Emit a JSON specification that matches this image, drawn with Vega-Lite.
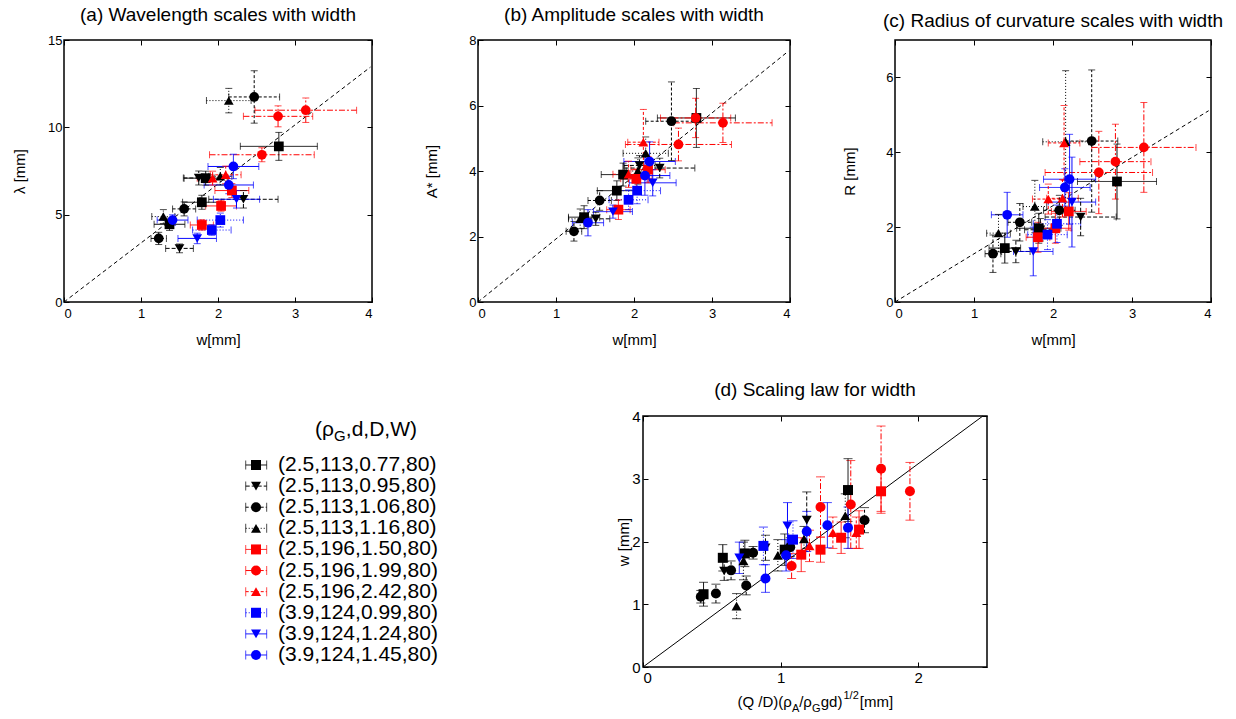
{
"$schema": "https://vega.github.io/schema/vega-lite/v6.json",
"background": "white",
"padding": {"left": 11, "top": 5, "right": 5, "bottom": 5},
"config": {
  "font": "Liberation Sans",
  "view": {"stroke": "black", "strokeWidth": 1.5},
  "axis": {"grid": false, "domain": false, "tickSize": -5, "tickColor": "black", "tickWidth": 1, "labelFontSize": 13, "labelColor": "black", "titleFontSize": 15, "titleFontWeight": "normal", "titleColor": "black", "labelFont": "Liberation Sans", "titleFont": "Liberation Sans"},
  "axisX": {"labelPadding": 10, "titlePadding": 12},
  "axisY": {"labelPadding": 7},
  "title": {"fontSize": 19, "fontWeight": "normal", "color": "black", "offset": 9, "anchor": "middle", "font": "Liberation Sans"}
},
"datasets": {
  "a": [
    {"s":"k1","w":2.79,"we":0.5,"v":8.91,"ve":0.8},{"s":"k1","w":1.84,"we":0.28,"v":7.09,"ve":0.4},{"s":"k1","w":1.79,"we":0.25,"v":5.71,"ve":0.4},{"s":"k1","w":1.37,"we":0.2,"v":4.45,"ve":0.35},
    {"s":"k2","w":2.33,"we":0.45,"v":5.88,"ve":0.5},{"s":"k2","w":1.75,"we":0.2,"v":7.1,"ve":0.4},{"s":"k2","w":1.5,"we":0.18,"v":3.07,"ve":0.25},
    {"s":"k3","w":2.47,"we":0.33,"v":11.74,"ve":1.5},{"s":"k3","w":1.56,"we":0.15,"v":5.33,"ve":0.4},{"s":"k3","w":1.23,"we":0.1,"v":3.64,"ve":0.35},
    {"s":"k4","w":2.14,"we":0.29,"v":11.53,"ve":0.7},{"s":"k4","w":2.03,"we":0.15,"v":7.2,"ve":0.5},{"s":"k4","w":1.29,"we":0.15,"v":4.89,"ve":0.4},
    {"s":"k5","w":2.18,"we":0.22,"v":6.38,"ve":0.4},{"s":"k5","w":2.04,"we":0.2,"v":5.5,"ve":0.3},{"s":"k5","w":1.79,"we":0.15,"v":4.41,"ve":0.3},
    {"s":"k6","w":2.78,"we":0.45,"v":10.63,"ve":0.6},{"s":"k6","w":3.14,"we":0.66,"v":10.98,"ve":0.7},{"s":"k6","w":2.57,"we":0.68,"v":8.43,"ve":0.4},
    {"s":"k7","w":1.93,"we":0.2,"v":7.09,"ve":0.4},{"s":"k7","w":2.1,"we":0.2,"v":7.28,"ve":0.5},
    {"s":"k8","w":2.03,"we":0.3,"v":4.69,"ve":0.4},{"s":"k8","w":1.92,"we":0.25,"v":4.12,"ve":0.3},
    {"s":"k9","w":2.24,"we":0.3,"v":5.88,"ve":0.5},{"s":"k9","w":1.73,"we":0.25,"v":3.64,"ve":0.3},
    {"s":"k10","w":2.2,"we":0.33,"v":7.76,"ve":0.7},{"s":"k10","w":2.14,"we":0.32,"v":6.7,"ve":0.5},{"s":"k10","w":1.41,"we":0.2,"v":4.69,"ve":0.3}
  ],
  "b": [
    {"s":"k1","w":2.8,"we":0.5,"v":5.62,"ve":0.9},{"s":"k1","w":1.86,"we":0.28,"v":3.89,"ve":0.35},{"s":"k1","w":1.78,"we":0.25,"v":3.4,"ve":0.3},{"s":"k1","w":1.36,"we":0.2,"v":2.59,"ve":0.35},
    {"s":"k2","w":2.33,"we":0.45,"v":4.09,"ve":0.3},{"s":"k2","w":2.07,"we":0.2,"v":4.17,"ve":0.3},{"s":"k2","w":1.51,"we":0.18,"v":2.54,"ve":0.2},
    {"s":"k3","w":2.48,"we":0.33,"v":5.52,"ve":1.2},{"s":"k3","w":1.56,"we":0.15,"v":3.1,"ve":0.3},{"s":"k3","w":1.23,"we":0.1,"v":2.16,"ve":0.3},
    {"s":"k4","w":2.15,"we":0.29,"v":4.54,"ve":0.5},{"s":"k4","w":2.05,"we":0.15,"v":4.0,"ve":0.4},{"s":"k4","w":1.31,"we":0.15,"v":2.54,"ve":0.3},
    {"s":"k5","w":2.18,"we":0.22,"v":4.04,"ve":0.4},{"s":"k5","w":2.03,"we":0.2,"v":3.76,"ve":0.3},{"s":"k5","w":1.8,"we":0.15,"v":2.82,"ve":0.3},
    {"s":"k6","w":2.79,"we":0.45,"v":5.62,"ve":0.6},{"s":"k6","w":3.14,"we":0.63,"v":5.47,"ve":0.6},{"s":"k6","w":2.57,"we":0.68,"v":4.81,"ve":0.5},
    {"s":"k7","w":2.12,"we":0.2,"v":4.88,"ve":1.0},{"s":"k7","w":1.93,"we":0.2,"v":3.9,"ve":0.4},
    {"s":"k8","w":2.04,"we":0.3,"v":3.4,"ve":0.4},{"s":"k8","w":1.93,"we":0.25,"v":3.12,"ve":0.3},
    {"s":"k9","w":2.24,"we":0.3,"v":3.64,"ve":0.4},{"s":"k9","w":1.73,"we":0.25,"v":2.76,"ve":0.2},
    {"s":"k10","w":2.2,"we":0.33,"v":4.29,"ve":0.6},{"s":"k10","w":2.14,"we":0.32,"v":3.86,"ve":0.6},{"s":"k10","w":1.41,"we":0.2,"v":2.42,"ve":0.4}
  ],
  "c": [
    {"s":"k1","w":2.81,"we":0.5,"v":3.22,"ve":1.0},{"s":"k1","w":1.82,"we":0.28,"v":1.97,"ve":0.4},{"s":"k1","w":1.39,"we":0.2,"v":1.44,"ve":0.4},
    {"s":"k2","w":2.35,"we":0.45,"v":2.27,"ve":0.5},{"s":"k2","w":1.84,"we":0.2,"v":1.93,"ve":0.3},{"s":"k2","w":1.53,"we":0.18,"v":1.35,"ve":0.3},
    {"s":"k3","w":2.49,"we":0.33,"v":4.3,"ve":1.9},{"s":"k3","w":2.08,"we":0.2,"v":2.45,"ve":0.4},{"s":"k3","w":1.58,"we":0.15,"v":2.13,"ve":0.5},{"s":"k3","w":1.24,"we":0.1,"v":1.29,"ve":0.5},
    {"s":"k4","w":2.16,"we":0.29,"v":4.28,"ve":1.9},{"s":"k4","w":1.77,"we":0.15,"v":2.55,"ve":0.7},{"s":"k4","w":1.31,"we":0.15,"v":1.84,"ve":0.5},
    {"s":"k5","w":2.2,"we":0.22,"v":2.42,"ve":0.5},{"s":"k5","w":2.03,"we":0.2,"v":1.97,"ve":0.4},{"s":"k5","w":1.81,"we":0.15,"v":1.73,"ve":0.4},
    {"s":"k6","w":3.15,"we":0.66,"v":4.13,"ve":1.2},{"s":"k6","w":2.79,"we":0.45,"v":3.75,"ve":1.0},{"s":"k6","w":2.58,"we":0.68,"v":3.46,"ve":1.1},
    {"s":"k7","w":2.14,"we":0.2,"v":4.25,"ve":1.0},{"s":"k7","w":1.94,"we":0.2,"v":2.75,"ve":0.4},{"s":"k7","w":2.12,"we":0.2,"v":2.77,"ve":0.5},
    {"s":"k8","w":2.05,"we":0.3,"v":2.09,"ve":0.5},{"s":"k8","w":1.93,"we":0.25,"v":1.8,"ve":0.4},
    {"s":"k9","w":2.24,"we":0.3,"v":2.67,"ve":1.2},{"s":"k9","w":1.75,"we":0.25,"v":1.35,"ve":0.65},
    {"s":"k10","w":2.21,"we":0.33,"v":3.28,"ve":1.2},{"s":"k10","w":2.15,"we":0.32,"v":3.06,"ve":0.5},{"s":"k10","w":1.42,"we":0.2,"v":2.33,"ve":0.6}
  ],
  "d": [
    {"s":"k1","x":0.44,"y":1.16,"ye":0.19},{"s":"k1","x":0.58,"y":1.74,"ye":0.21},{"s":"k1","x":0.74,"y":1.81,"ye":0.21},{"s":"k1","x":1.03,"y":1.87,"ye":0.25},{"s":"k1","x":1.49,"y":2.82,"ye":0.5},
    {"s":"k2","x":0.59,"y":1.53,"ye":0.15},{"s":"k2","x":0.89,"y":1.9,"ye":0.2},{"s":"k2","x":1.19,"y":2.34,"ye":0.45},
    {"s":"k3","x":0.42,"y":1.12,"ye":0.1},{"s":"k3","x":0.53,"y":1.17,"ye":0.15},{"s":"k3","x":0.64,"y":1.54,"ye":0.15},{"s":"k3","x":0.75,"y":1.3,"ye":0.15},{"s":"k3","x":0.8,"y":1.82,"ye":0.1},{"s":"k3","x":1.07,"y":1.91,"ye":0.15},{"s":"k3","x":1.61,"y":2.34,"ye":0.2},
    {"s":"k4","x":0.68,"y":0.97,"ye":0.2},{"s":"k4","x":0.73,"y":1.69,"ye":0.3},{"s":"k4","x":0.98,"y":1.78,"ye":0.25},{"s":"k4","x":1.17,"y":2.04,"ye":0.2},{"s":"k4","x":1.47,"y":2.41,"ye":0.35},
    {"s":"k5","x":1.15,"y":1.79,"ye":0.27},{"s":"k5","x":1.29,"y":1.87,"ye":0.2},{"s":"k5","x":1.44,"y":2.06,"ye":0.25},{"s":"k5","x":1.57,"y":2.19,"ye":0.3},{"s":"k5","x":1.73,"y":2.8,"ye":0.35},
    {"s":"k6","x":1.08,"y":1.61,"ye":0.2},{"s":"k6","x":1.29,"y":2.55,"ye":0.48},{"s":"k6","x":1.51,"y":2.59,"ye":0.7},{"s":"k6","x":1.73,"y":3.16,"ye":0.68},{"s":"k6","x":1.94,"y":2.8,"ye":0.46},
    {"s":"k7","x":1.21,"y":1.93,"ye":0.25},{"s":"k7","x":1.38,"y":2.14,"ye":0.25},{"s":"k7","x":1.55,"y":2.14,"ye":0.25},
    {"s":"k8","x":0.875,"y":1.93,"ye":0.3},{"s":"k8","x":1.09,"y":2.03,"ye":0.3},
    {"s":"k9","x":0.7,"y":1.74,"ye":0.25},{"s":"k9","x":1.05,"y":2.25,"ye":0.37},
    {"s":"k10","x":0.89,"y":1.41,"ye":0.22},{"s":"k10","x":1.04,"y":1.78,"ye":0.25},{"s":"k10","x":1.19,"y":2.16,"ye":0.32},{"s":"k10","x":1.34,"y":2.26,"ye":0.36},{"s":"k10","x":1.49,"y":2.22,"ye":0.33}
  ],
  "leg": [
    {"s":"k1","label":"(2.5,113,0.77,80)","order":1},
    {"s":"k2","label":"(2.5,113,0.95,80)","order":2},
    {"s":"k3","label":"(2.5,113,1.06,80)","order":3},
    {"s":"k4","label":"(2.5,113,1.16,80)","order":4},
    {"s":"k5","label":"(2.5,196,1.50,80)","order":5},
    {"s":"k6","label":"(2.5,196,1.99,80)","order":6},
    {"s":"k7","label":"(2.5,196,2.42,80)","order":7},
    {"s":"k8","label":"(3.9,124,0.99,80)","order":8},
    {"s":"k9","label":"(3.9,124,1.24,80)","order":9},
    {"s":"k10","label":"(3.9,124,1.45,80)","order":10}
  ]
},
"spacing": 32,
"vconcat": [
 {"spacing": 50, "hconcat": [
  {"width": 308, "height": 262, "title": "(a) Wavelength scales with width",
   "layer": [
    {"data": {"values": [{"x":0,"y":0},{"x":3.98,"y":13.45}]}, "mark": {"type":"line","color":"black","strokeWidth":1,"strokeDash":[4,3]},
     "encoding": {"x":{"field":"x","type":"quantitative","scale":{"domain":[0,4],"nice":false},"axis":{"orient":"top","labels":false,"title":null,"values":[0,1,2,3,4]}},
                  "y":{"field":"y","type":"quantitative","scale":{"domain":[0,15],"nice":false},"axis":{"orient":"right","labels":false,"title":null,"values":[0,5,10,15]}}}},
    {"data": {"name":"a"}, "mark": {"type":"errorbar","ticks":true,"size":7,"thickness":1},
     "encoding": {"x":{"field":"w","type":"quantitative","scale":{"domain":[0,4],"nice":false},"axis":null},"xError":{"field":"we"},
                  "y":{"field":"v","type":"quantitative","scale":{"domain":[0,15],"nice":false},"axis":null},
                  "color":{"field":"s","type":"nominal","scale":{"domain":["k1","k2","k3","k4","k5","k6","k7","k8","k9","k10"],"range":["#000000","#000000","#000000","#000000","#ff0000","#ff0000","#ff0000","#0000ff","#0000ff","#0000ff"]},"legend":null},
                  "strokeDash":{"field":"s","type":"nominal","scale":{"domain":["k1","k2","k3","k4","k5","k6","k7","k8","k9","k10"],"range":[[1,0],[4,2],[3,2],[1,2],[1,0],[6,2,2,2],[3,2],[1,2],[1,0],[1,0]]},"legend":null}}},
    {"data": {"name":"a"}, "mark": {"type":"errorbar","ticks":true,"size":7,"thickness":1},
     "encoding": {"y":{"field":"v","type":"quantitative","scale":{"domain":[0,15],"nice":false},"axis":null},"yError":{"field":"ve"},
                  "x":{"field":"w","type":"quantitative","scale":{"domain":[0,4],"nice":false},"axis":null},
                  "color":{"field":"s","type":"nominal","scale":{"domain":["k1","k2","k3","k4","k5","k6","k7","k8","k9","k10"],"range":["#000000","#000000","#000000","#000000","#ff0000","#ff0000","#ff0000","#0000ff","#0000ff","#0000ff"]},"legend":null},
                  "strokeDash":{"field":"s","type":"nominal","scale":{"domain":["k1","k2","k3","k4","k5","k6","k7","k8","k9","k10"],"range":[[1,0],[4,2],[3,2],[1,2],[1,0],[6,2,2,2],[3,2],[1,2],[1,0],[1,0]]},"legend":null}}},
    {"data": {"name":"a"}, "mark": {"type":"point","filled":true,"size":95,"opacity":1},
     "encoding": {"x":{"field":"w","type":"quantitative","scale":{"domain":[0,4],"nice":false},"axis":{"title":"w[mm]","values":[0,1,2,3,4]}},
                  "y":{"field":"v","type":"quantitative","scale":{"domain":[0,15],"nice":false},"axis":{"title":"λ [mm]","values":[0,5,10,15],"titlePadding":20}},
                  "shape":{"field":"s","type":"nominal","scale":{"domain":["k1","k2","k3","k4","k5","k6","k7","k8","k9","k10"],"range":["square","triangle-down","circle","triangle-up","square","circle","triangle-up","square","triangle-down","circle"]},"legend":null},
                  "color":{"field":"s","type":"nominal","scale":{"domain":["k1","k2","k3","k4","k5","k6","k7","k8","k9","k10"],"range":["#000000","#000000","#000000","#000000","#ff0000","#ff0000","#ff0000","#0000ff","#0000ff","#0000ff"]},"legend":null}}}
   ],
   "resolve": {"axis": {"x":"independent","y":"independent"}}},
  {"width": 312, "height": 262, "title": "(b) Amplitude scales with width",
   "layer": [
    {"data": {"values": [{"x":0,"y":0},{"x":3.98,"y":7.66}]}, "mark": {"type":"line","color":"black","strokeWidth":1,"strokeDash":[4,3]},
     "encoding": {"x":{"field":"x","type":"quantitative","scale":{"domain":[0,4],"nice":false},"axis":{"orient":"top","labels":false,"title":null,"values":[0,1,2,3,4]}},
                  "y":{"field":"y","type":"quantitative","scale":{"domain":[0,8],"nice":false},"axis":{"orient":"right","labels":false,"title":null,"values":[0,2,4,6,8]}}}},
    {"data": {"name":"b"}, "mark": {"type":"errorbar","ticks":true,"size":7,"thickness":1},
     "encoding": {"x":{"field":"w","type":"quantitative","scale":{"domain":[0,4],"nice":false},"axis":null},"xError":{"field":"we"},
                  "y":{"field":"v","type":"quantitative","scale":{"domain":[0,8],"nice":false},"axis":null},
                  "color":{"field":"s","type":"nominal","scale":{"domain":["k1","k2","k3","k4","k5","k6","k7","k8","k9","k10"],"range":["#000000","#000000","#000000","#000000","#ff0000","#ff0000","#ff0000","#0000ff","#0000ff","#0000ff"]},"legend":null},
                  "strokeDash":{"field":"s","type":"nominal","scale":{"domain":["k1","k2","k3","k4","k5","k6","k7","k8","k9","k10"],"range":[[1,0],[4,2],[3,2],[1,2],[1,0],[6,2,2,2],[3,2],[1,2],[1,0],[1,0]]},"legend":null}}},
    {"data": {"name":"b"}, "mark": {"type":"errorbar","ticks":true,"size":7,"thickness":1},
     "encoding": {"y":{"field":"v","type":"quantitative","scale":{"domain":[0,8],"nice":false},"axis":null},"yError":{"field":"ve"},
                  "x":{"field":"w","type":"quantitative","scale":{"domain":[0,4],"nice":false},"axis":null},
                  "color":{"field":"s","type":"nominal","scale":{"domain":["k1","k2","k3","k4","k5","k6","k7","k8","k9","k10"],"range":["#000000","#000000","#000000","#000000","#ff0000","#ff0000","#ff0000","#0000ff","#0000ff","#0000ff"]},"legend":null},
                  "strokeDash":{"field":"s","type":"nominal","scale":{"domain":["k1","k2","k3","k4","k5","k6","k7","k8","k9","k10"],"range":[[1,0],[4,2],[3,2],[1,2],[1,0],[6,2,2,2],[3,2],[1,2],[1,0],[1,0]]},"legend":null}}},
    {"data": {"name":"b"}, "mark": {"type":"point","filled":true,"size":95,"opacity":1},
     "encoding": {"x":{"field":"w","type":"quantitative","scale":{"domain":[0,4],"nice":false},"axis":{"title":"w[mm]","values":[0,1,2,3,4]}},
                  "y":{"field":"v","type":"quantitative","scale":{"domain":[0,8],"nice":false},"axis":{"title":"A* [mm]","values":[0,2,4,6,8],"titlePadding":29}},
                  "shape":{"field":"s","type":"nominal","scale":{"domain":["k1","k2","k3","k4","k5","k6","k7","k8","k9","k10"],"range":["square","triangle-down","circle","triangle-up","square","circle","triangle-up","square","triangle-down","circle"]},"legend":null},
                  "color":{"field":"s","type":"nominal","scale":{"domain":["k1","k2","k3","k4","k5","k6","k7","k8","k9","k10"],"range":["#000000","#000000","#000000","#000000","#ff0000","#ff0000","#ff0000","#0000ff","#0000ff","#0000ff"]},"legend":null}}}
   ],
   "resolve": {"axis": {"x":"independent","y":"independent"}}},
  {"width": 316, "height": 262, "title": "(c) Radius of curvature scales with width",
   "layer": [
    {"data": {"values": [{"x":0,"y":0},{"x":3.97,"y":5.11}]}, "mark": {"type":"line","color":"black","strokeWidth":1,"strokeDash":[4,3]},
     "encoding": {"x":{"field":"x","type":"quantitative","scale":{"domain":[0,4],"nice":false},"axis":{"orient":"top","labels":false,"title":null,"values":[0,1,2,3,4]}},
                  "y":{"field":"y","type":"quantitative","scale":{"domain":[0,7],"nice":false},"axis":{"orient":"right","labels":false,"title":null,"values":[0,2,4,6]}}}},
    {"data": {"name":"c"}, "mark": {"type":"errorbar","ticks":true,"size":7,"thickness":1},
     "encoding": {"x":{"field":"w","type":"quantitative","scale":{"domain":[0,4],"nice":false},"axis":null},"xError":{"field":"we"},
                  "y":{"field":"v","type":"quantitative","scale":{"domain":[0,7],"nice":false},"axis":null},
                  "color":{"field":"s","type":"nominal","scale":{"domain":["k1","k2","k3","k4","k5","k6","k7","k8","k9","k10"],"range":["#000000","#000000","#000000","#000000","#ff0000","#ff0000","#ff0000","#0000ff","#0000ff","#0000ff"]},"legend":null},
                  "strokeDash":{"field":"s","type":"nominal","scale":{"domain":["k1","k2","k3","k4","k5","k6","k7","k8","k9","k10"],"range":[[1,0],[4,2],[3,2],[1,2],[1,0],[6,2,2,2],[3,2],[1,2],[1,0],[1,0]]},"legend":null}}},
    {"data": {"name":"c"}, "mark": {"type":"errorbar","ticks":true,"size":7,"thickness":1},
     "encoding": {"y":{"field":"v","type":"quantitative","scale":{"domain":[0,7],"nice":false},"axis":null},"yError":{"field":"ve"},
                  "x":{"field":"w","type":"quantitative","scale":{"domain":[0,4],"nice":false},"axis":null},
                  "color":{"field":"s","type":"nominal","scale":{"domain":["k1","k2","k3","k4","k5","k6","k7","k8","k9","k10"],"range":["#000000","#000000","#000000","#000000","#ff0000","#ff0000","#ff0000","#0000ff","#0000ff","#0000ff"]},"legend":null},
                  "strokeDash":{"field":"s","type":"nominal","scale":{"domain":["k1","k2","k3","k4","k5","k6","k7","k8","k9","k10"],"range":[[1,0],[4,2],[3,2],[1,2],[1,0],[6,2,2,2],[3,2],[1,2],[1,0],[1,0]]},"legend":null}}},
    {"data": {"name":"c"}, "mark": {"type":"point","filled":true,"size":95,"opacity":1},
     "encoding": {"x":{"field":"w","type":"quantitative","scale":{"domain":[0,4],"nice":false},"axis":{"title":"w[mm]","values":[0,1,2,3,4]}},
                  "y":{"field":"v","type":"quantitative","scale":{"domain":[0,7],"nice":false},"axis":{"title":"R [mm]","values":[0,2,4,6],"titlePadding":28}},
                  "shape":{"field":"s","type":"nominal","scale":{"domain":["k1","k2","k3","k4","k5","k6","k7","k8","k9","k10"],"range":["square","triangle-down","circle","triangle-up","square","circle","triangle-up","square","triangle-down","circle"]},"legend":null},
                  "color":{"field":"s","type":"nominal","scale":{"domain":["k1","k2","k3","k4","k5","k6","k7","k8","k9","k10"],"range":["#000000","#000000","#000000","#000000","#ff0000","#ff0000","#ff0000","#0000ff","#0000ff","#0000ff"]},"legend":null}}}
   ],
   "resolve": {"axis": {"x":"independent","y":"independent"}}}
 ]},
 {"spacing": 20, "hconcat": [
  {"width": 531, "height": 251, "view": {"stroke": null},
   "layer": [
    {"data": {"name":"leg"}, "mark": {"type":"rule","strokeWidth":1},
     "encoding": {"x":{"datum":34.22,"type":"quantitative","scale":{"domain":[0,100],"nice":false,"zero":false},"axis":null},"x2":{"datum":38.17},
                  "y":{"field":"order","type":"quantitative","scale":{"domain":[-1.321,10.569],"reverse":true,"nice":false,"zero":false},"axis":null},
                  "color":{"field":"s","type":"nominal","scale":{"domain":["k1","k2","k3","k4","k5","k6","k7","k8","k9","k10"],"range":["#000000","#000000","#000000","#000000","#ff0000","#ff0000","#ff0000","#0000ff","#0000ff","#0000ff"]},"legend":null},
                  "strokeDash":{"field":"s","type":"nominal","scale":{"domain":["k1","k2","k3","k4","k5","k6","k7","k8","k9","k10"],"range":[[1,0],[4,2],[3,2],[1,2],[1,0],[6,2,2,2],[3,2],[1,2],[1,0],[1,0]]},"legend":null}}},
    {"data": {"name":"leg"}, "mark": {"type":"tick","orient":"vertical","size":9,"thickness":1},
     "encoding": {"x":{"datum":34.22,"type":"quantitative","scale":{"domain":[0,100],"nice":false,"zero":false},"axis":null},
                  "y":{"field":"order","type":"quantitative","scale":{"domain":[-1.321,10.569],"reverse":true,"nice":false,"zero":false},"axis":null},
                  "color":{"field":"s","type":"nominal","scale":{"domain":["k1","k2","k3","k4","k5","k6","k7","k8","k9","k10"],"range":["#000000","#000000","#000000","#000000","#ff0000","#ff0000","#ff0000","#0000ff","#0000ff","#0000ff"]},"legend":null}}},
    {"data": {"name":"leg"}, "mark": {"type":"tick","orient":"vertical","size":9,"thickness":1},
     "encoding": {"x":{"datum":38.17,"type":"quantitative","scale":{"domain":[0,100],"nice":false,"zero":false},"axis":null},
                  "y":{"field":"order","type":"quantitative","scale":{"domain":[-1.321,10.569],"reverse":true,"nice":false,"zero":false},"axis":null},
                  "color":{"field":"s","type":"nominal","scale":{"domain":["k1","k2","k3","k4","k5","k6","k7","k8","k9","k10"],"range":["#000000","#000000","#000000","#000000","#ff0000","#ff0000","#ff0000","#0000ff","#0000ff","#0000ff"]},"legend":null}}},
    {"data": {"name":"leg"}, "mark": {"type":"point","filled":true,"size":100,"opacity":1},
     "encoding": {"x":{"datum":36.16,"type":"quantitative","scale":{"domain":[0,100],"nice":false,"zero":false},"axis":null},
                  "y":{"field":"order","type":"quantitative","scale":{"domain":[-1.321,10.569],"reverse":true,"nice":false,"zero":false},"axis":null},
                  "shape":{"field":"s","type":"nominal","scale":{"domain":["k1","k2","k3","k4","k5","k6","k7","k8","k9","k10"],"range":["square","triangle-down","circle","triangle-up","square","circle","triangle-up","square","triangle-down","circle"]},"legend":null},
                  "color":{"field":"s","type":"nominal","scale":{"domain":["k1","k2","k3","k4","k5","k6","k7","k8","k9","k10"],"range":["#000000","#000000","#000000","#000000","#ff0000","#ff0000","#ff0000","#0000ff","#0000ff","#0000ff"]},"legend":null}}},
    {"data": {"name":"leg"}, "mark": {"type":"text","align":"left","baseline":"middle","fontSize":21,"color":"black"},
     "encoding": {"x":{"datum":40.3,"type":"quantitative","scale":{"domain":[0,100],"nice":false,"zero":false},"axis":null},
                  "y":{"field":"order","type":"quantitative","scale":{"domain":[-1.321,10.569],"reverse":true,"nice":false,"zero":false},"axis":null},
                  "text":{"field":"label"}}},
    {"data": {"values":[{}]}, "mark": {"type":"text","text":"(ρ","align":"left","baseline":"middle","fontSize":21,"color":"black"},
     "encoding": {"x":{"datum":47.27,"type":"quantitative","scale":{"domain":[0,100],"nice":false,"zero":false},"axis":null},
                  "y":{"datum":-0.66,"type":"quantitative","scale":{"domain":[-1.321,10.569],"reverse":true,"nice":false,"zero":false},"axis":null}}},
    {"data": {"values":[{}]}, "mark": {"type":"text","text":"G","align":"left","baseline":"middle","fontSize":15,"dy":6,"color":"black"},
     "encoding": {"x":{"datum":50.87,"type":"quantitative","scale":{"domain":[0,100],"nice":false,"zero":false},"axis":null},
                  "y":{"datum":-0.66,"type":"quantitative","scale":{"domain":[-1.321,10.569],"reverse":true,"nice":false,"zero":false},"axis":null}}},
    {"data": {"values":[{}]}, "mark": {"type":"text","text":",d,D,W)","align":"left","baseline":"middle","fontSize":21,"color":"black"},
     "encoding": {"x":{"datum":53.07,"type":"quantitative","scale":{"domain":[0,100],"nice":false,"zero":false},"axis":null},
                  "y":{"datum":-0.66,"type":"quantitative","scale":{"domain":[-1.321,10.569],"reverse":true,"nice":false,"zero":false},"axis":null}}}
   ]},
  {"width": 344, "height": 251, "title": "(d) Scaling law for width",
   "layer": [
    {"data": {"values": [{"x":0,"y":0},{"x":2.47,"y":4}]}, "mark": {"type":"line","color":"black","strokeWidth":1},
     "encoding": {"x":{"field":"x","type":"quantitative","scale":{"domain":[0,2.5],"nice":false},"axis":{"orient":"top","labels":false,"title":null,"values":[0,1,2]}},
                  "y":{"field":"y","type":"quantitative","scale":{"domain":[0,4],"nice":false},"axis":{"orient":"right","labels":false,"title":null,"values":[0,1,2,3,4]}}}},
    {"data": {"name":"d"}, "mark": {"type":"errorbar","ticks":true,"size":9,"thickness":1},
     "encoding": {"y":{"field":"y","type":"quantitative","scale":{"domain":[0,4],"nice":false},"axis":null},"yError":{"field":"ye"},
                  "x":{"field":"x","type":"quantitative","scale":{"domain":[0,2.5],"nice":false},"axis":null},
                  "color":{"field":"s","type":"nominal","scale":{"domain":["k1","k2","k3","k4","k5","k6","k7","k8","k9","k10"],"range":["#000000","#000000","#000000","#000000","#ff0000","#ff0000","#ff0000","#0000ff","#0000ff","#0000ff"]},"legend":null},
                  "strokeDash":{"field":"s","type":"nominal","scale":{"domain":["k1","k2","k3","k4","k5","k6","k7","k8","k9","k10"],"range":[[1,0],[4,2],[3,2],[1,2],[1,0],[6,2,2,2],[3,2],[1,2],[1,0],[1,0]]},"legend":null}}},
    {"data": {"name":"d"}, "mark": {"type":"point","filled":true,"size":100,"opacity":1},
     "encoding": {"x":{"field":"x","type":"quantitative","scale":{"domain":[0,2.5],"nice":false},"axis":{"title":null,"values":[0,1,2],"labelFontSize":15,"labelPadding":8}},
                  "y":{"field":"y","type":"quantitative","scale":{"domain":[0,4],"nice":false},"axis":{"title":"w [mm]","values":[0,1,2,3,4],"labelFontSize":15,"labelPadding":8,"titlePadding":0}},
                  "shape":{"field":"s","type":"nominal","scale":{"domain":["k1","k2","k3","k4","k5","k6","k7","k8","k9","k10"],"range":["square","triangle-down","circle","triangle-up","square","circle","triangle-up","square","triangle-down","circle"]},"legend":null},
                  "color":{"field":"s","type":"nominal","scale":{"domain":["k1","k2","k3","k4","k5","k6","k7","k8","k9","k10"],"range":["#000000","#000000","#000000","#000000","#ff0000","#ff0000","#ff0000","#0000ff","#0000ff","#0000ff"]},"legend":null}}},
    {"data": {"values":[{}]}, "mark": {"type":"text","text":"(Q /D)(ρ","align":"left","baseline":"alphabetic","fontSize":15,"color":"black"},
     "encoding": {"x":{"datum":0.686,"type":"quantitative","scale":{"domain":[0,2.5],"nice":false},"axis":null},"y":{"datum":-0.637,"type":"quantitative","scale":{"domain":[0,4],"nice":false},"axis":null}}},
    {"data": {"values":[{}]}, "mark": {"type":"text","text":"A","align":"left","baseline":"alphabetic","fontSize":11,"dy":5,"color":"black"},
     "encoding": {"x":{"datum":1.082,"type":"quantitative","scale":{"domain":[0,2.5],"nice":false},"axis":null},"y":{"datum":-0.637,"type":"quantitative","scale":{"domain":[0,4],"nice":false},"axis":null}}},
    {"data": {"values":[{}]}, "mark": {"type":"text","text":"/ρ","align":"left","baseline":"alphabetic","fontSize":15,"color":"black"},
     "encoding": {"x":{"datum":1.135,"type":"quantitative","scale":{"domain":[0,2.5],"nice":false},"axis":null},"y":{"datum":-0.637,"type":"quantitative","scale":{"domain":[0,4],"nice":false},"axis":null}}},
    {"data": {"values":[{}]}, "mark": {"type":"text","text":"G","align":"left","baseline":"alphabetic","fontSize":11,"dy":5,"color":"black"},
     "encoding": {"x":{"datum":1.229,"type":"quantitative","scale":{"domain":[0,2.5],"nice":false},"axis":null},"y":{"datum":-0.637,"type":"quantitative","scale":{"domain":[0,4],"nice":false},"axis":null}}},
    {"data": {"values":[{}]}, "mark": {"type":"text","text":"gd)","align":"left","baseline":"alphabetic","fontSize":15,"color":"black"},
     "encoding": {"x":{"datum":1.292,"type":"quantitative","scale":{"domain":[0,2.5],"nice":false},"axis":null},"y":{"datum":-0.637,"type":"quantitative","scale":{"domain":[0,4],"nice":false},"axis":null}}},
    {"data": {"values":[{}]}, "mark": {"type":"text","text":"1/2","align":"left","baseline":"alphabetic","fontSize":11,"dy":-8,"color":"black"},
     "encoding": {"x":{"datum":1.457,"type":"quantitative","scale":{"domain":[0,2.5],"nice":false},"axis":null},"y":{"datum":-0.637,"type":"quantitative","scale":{"domain":[0,4],"nice":false},"axis":null}}},
    {"data": {"values":[{}]}, "mark": {"type":"text","text":"[mm]","align":"left","baseline":"alphabetic","fontSize":15,"color":"black"},
     "encoding": {"x":{"datum":1.575,"type":"quantitative","scale":{"domain":[0,2.5],"nice":false},"axis":null},"y":{"datum":-0.637,"type":"quantitative","scale":{"domain":[0,4],"nice":false},"axis":null}}}
   ],
   "resolve": {"axis": {"x":"independent","y":"independent"}}}
 ]}
]
}
